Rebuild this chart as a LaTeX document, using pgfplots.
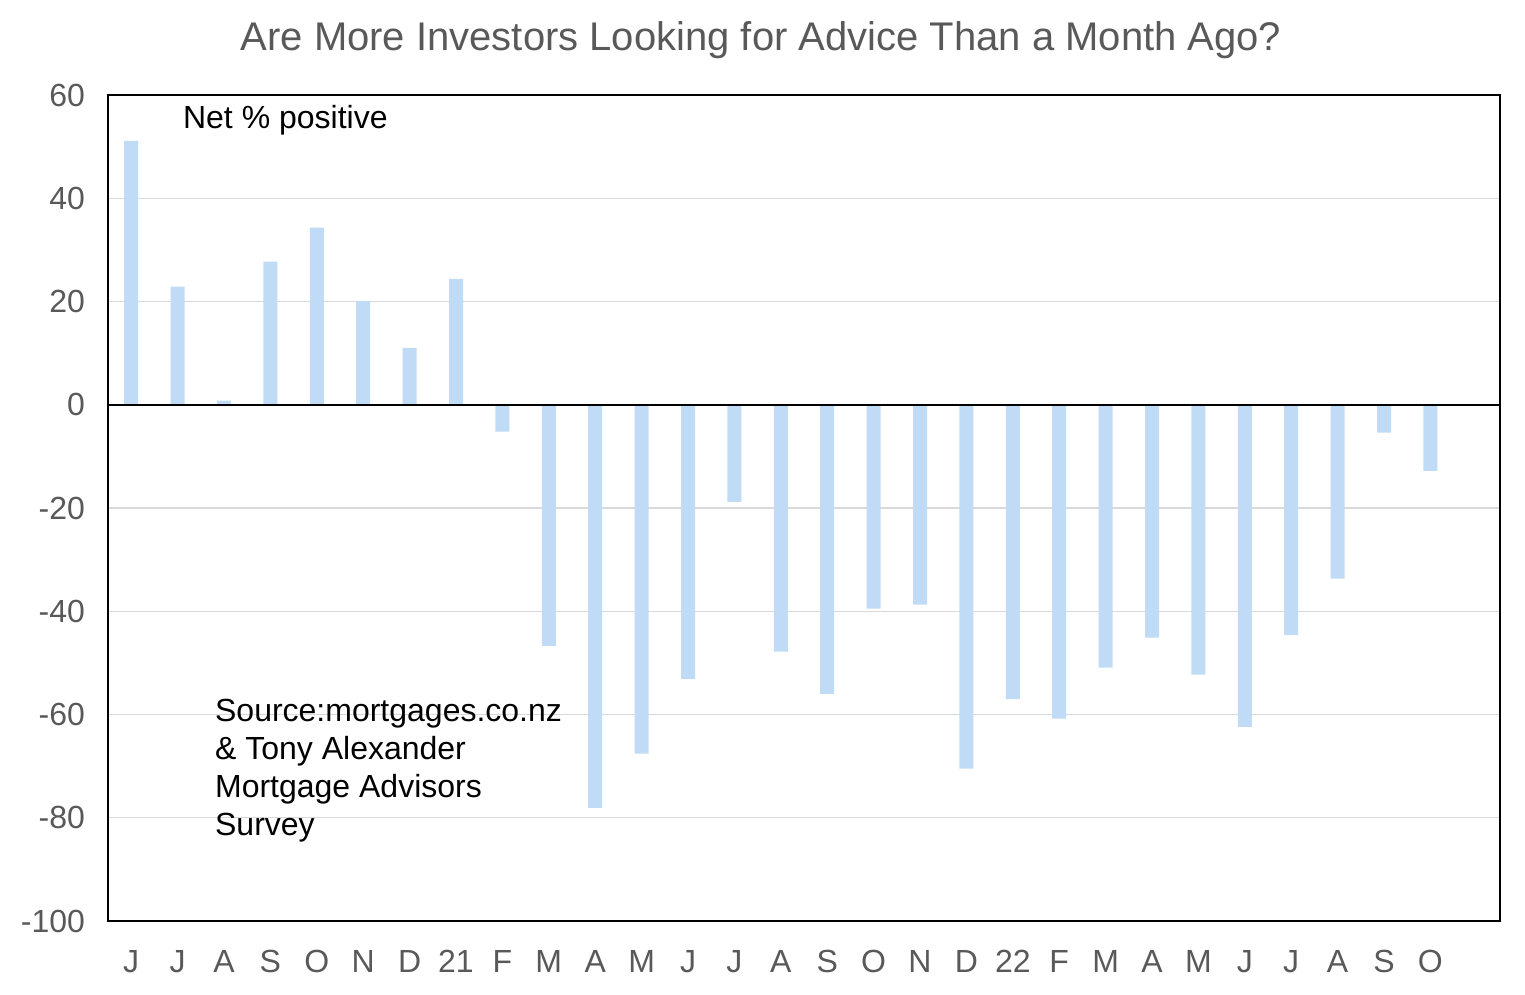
\documentclass[border=0pt]{standalone}
\usepackage{pgfplots}
\pgfplotsset{compat=1.18}
\usepackage{fontspec}
\setmainfont{Liberation Sans}
\usetikzlibrary{calc}
\definecolor{barblue}{HTML}{C0DBF5}
\definecolor{txtgray}{HTML}{595959}
\definecolor{gridgray}{HTML}{D9D9D9}
\begin{document}
\begin{tikzpicture}
\begin{axis}[
  scale only axis,
  width=696pt, height=413pt,
  xmin=-0.5, xmax=29.5,
  ymin=-100, ymax=60,
  ytick={-100,-80,-60,-40,-20,0,20,40,60},
  xtick={0,...,28},
  xticklabels={J,J,A,S,O,N,D,21,F,M,A,M,J,J,A,S,O,N,D,22,F,M,A,M,J,J,A,S,O},
  major tick length=0pt,
  ymajorgrids, grid style={gridgray, line width=0.6pt},
  axis line style={black, line width=0.8pt},
  /pgf/number format/assume math mode=true,
  tick label style={font=\fontsize{16}{19}\selectfont, text=txtgray},
  yticklabel style={xshift=-8pt},
  xticklabel style={yshift=-11pt},
  clip=false,
]
\addplot[ybar, bar width=7pt, fill=barblue, draw=none] coordinates {
(0,51.1) (1,22.9) (2,0.8) (3,27.7) (4,34.3) (5,20.1) (6,11.0) (7,24.4)
(8,-5.2) (9,-46.7) (10,-78.1) (11,-67.6) (12,-53.1) (13,-18.8) (14,-47.8)
(15,-56.0) (16,-39.5) (17,-38.7) (18,-70.5) (19,-57.0) (20,-60.8) (21,-50.9)
(22,-45.1) (23,-52.3) (24,-62.4) (25,-44.6) (26,-33.7) (27,-5.4) (28,-12.8)
};
\draw[black, line width=0.8pt] (axis cs:-0.5,0) -- (axis cs:29.5,0);
\node[anchor=west, font=\fontsize{16}{19}\selectfont, inner sep=0pt] at (axis cs:1.11,55.2) {Net \% positive};
\node[anchor=north west, align=left, font=\fontsize{16}{19}\selectfont, inner sep=0pt] at (axis cs:1.8,-57.0) {Source:mortgages.co.nz\\\& Tony Alexander\\Mortgage Advisors\\Survey};
\end{axis}
\node[font=\fontsize{20}{24}\selectfont, text=txtgray] at ($(current axis.north west)+(326.5pt,27.5pt)$) {Are More Investors Looking for Advice Than a Month Ago?};
\path ($(current axis.south west)+(-54pt,-37pt)$) rectangle ($(current axis.north east)+(12.5pt,47.5pt)$);
\end{tikzpicture}
\end{document}
